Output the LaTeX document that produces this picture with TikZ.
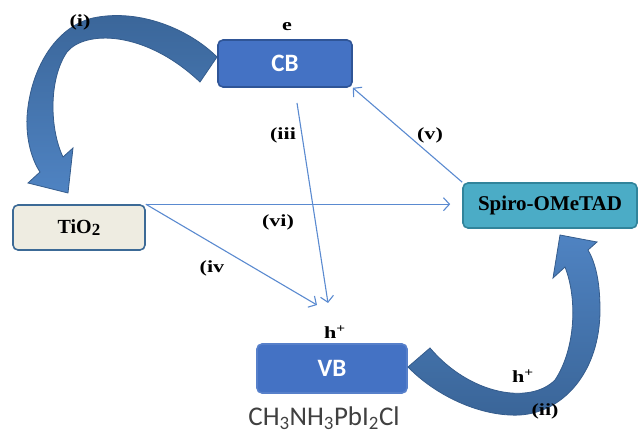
\documentclass[tikz,border=0pt]{standalone}
\usepackage{fontspec}
\setmainfont{Liberation Serif}
\newfontfamily\calfont{Carlito}
\usetikzlibrary{arrows.meta}
\definecolor{cbfill}{HTML}{4472C4}
\definecolor{cbdraw}{HTML}{2F5597}
\definecolor{tiofill}{HTML}{EEECE1}
\definecolor{tiodraw}{HTML}{3C6A96}
\definecolor{spfill}{HTML}{4BACC6}
\definecolor{spdraw}{HTML}{31849B}
\definecolor{thin}{HTML}{5A8AD0}
\definecolor{bigdark}{HTML}{3A6598}
\definecolor{biglight}{HTML}{4F83C2}
\definecolor{bigline}{HTML}{355C8C}
\definecolor{formula}{HTML}{404040}
\tikzset{
  band/.style={rounded corners=5pt, line width=1.6pt, inner sep=0pt, text=white,
    font=\calfont\bfseries\fontsize{25}{25}\selectfont},
  lbl/.style={font=\bfseries\fontsize{17}{17}\selectfont, xscale=1.3, inner sep=0pt},
  thinarrow/.style={draw=thin, line width=1.1pt, -{Straight Barb[length=6pt,width=13pt,line width=1.1pt]}},
  bigarrow/.style={draw=bigline, line width=0.8pt}
}
\begin{document}
\begin{tikzpicture}[x=1pt,y=-1pt]
\useasboundingbox (0,0) rectangle (638,435);
% boxes
\node[band, fill=cbfill, draw=cbdraw, minimum width=134pt, minimum height=47pt] (cb) at (285,63.5) {CB};
\node[band, fill=cbfill, draw=cbfill!90!white, minimum width=150pt, minimum height=49pt] (vb) at (332,368.5) {VB};
\node[rounded corners=5pt, line width=1.6pt, fill=tiofill, draw=tiodraw, minimum width=132pt, minimum height=45pt,
  font=\bfseries\fontsize{20}{20}\selectfont] (tio) at (79,227.5) {TiO\raisebox{-0.25ex}{\fontsize{17}{17}\selectfont 2}};
\node[rounded corners=5pt, line width=1.6pt, fill=spfill, draw=spdraw, minimum width=174pt, minimum height=45pt,
  font=\bfseries\fontsize{21}{21}\selectfont] (sp) at (550,205.5) {Spiro-OMeTAD};
% formula
\node[font=\calfont\fontsize{27}{27}\selectfont, text=formula, inner sep=0pt] (form) at (324,418)
  {CH\textsubscript{3}NH\textsubscript{3}PbI\textsubscript{2}Cl};
% big arrow (i)
\shade[top color=bigdark, bottom color=biglight, bigarrow]
  (217,57) .. controls (190,30) and (140,8) .. (93,18)
  .. controls (55,27) and (30,70) .. (27,117)
  .. controls (26,140) and (32,160) .. (40,172)
  -- (28,183) -- (68,193) -- (73,148) -- (63,157)
  .. controls (50,130) and (48,80) .. (67,52)
  .. controls (85,30) and (145,30) .. (200,82) -- cycle;
% big arrow (ii)
\shade[top color=biglight, bottom color=bigdark, bigarrow]
  (430,348) -- (408,367)
  .. controls (435,395) and (480,417) .. (520,415)
  .. controls (565,412) and (600,370) .. (600,310)
  .. controls (600,280) and (595,262) .. (588,250)
  -- (597,242) -- (560,235) -- (553,278) -- (565,267)
  .. controls (578,300) and (575,350) .. (555,380)
  .. controls (530,405) and (470,395) .. (430,348) -- cycle;
% thin connectors
\coordinate (iiistart) at (297,103);
\coordinate (iiiend) at (328,303);
\coordinate (ivend) at (317,305);
\draw[thinarrow] (iiistart) -- (iiiend);
\draw[thinarrow] (tio.north east) -- (ivend);
\draw[thinarrow] (tio.north east) -- ([xshift=-12pt]sp.west |- tio.north east);
\draw[thinarrow] (sp.north west) -- (cb.south east);
% labels
\node[lbl] (li) at (80,22) {(i)};
\node[lbl] (le) at (287,27) {e};
\node[lbl] (liii) at (283,135) {(iii};
\node[lbl] (lv) at (430,135) {(v)};
\node[lbl] (lvi) at (278,222) {(vi)};
\node[lbl] (liv) at (212,268) {(iv};
\node[lbl] (lh1) at (335,332) {h\textsuperscript{+}};
\node[lbl] (lh2) at (523,376) {h\textsuperscript{+}};
\node[lbl] (lii) at (545,411) {(ii)};
\end{tikzpicture}
\end{document}
